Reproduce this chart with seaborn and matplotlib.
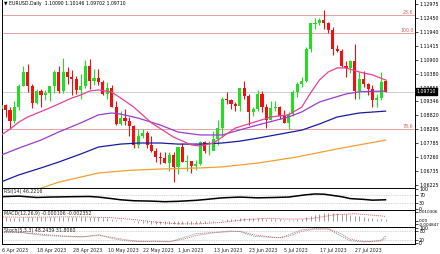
import numpy as np
import pandas as pd
import matplotlib
matplotlib.use("Agg")
import matplotlib.pyplot as plt
import matplotlib.transforms as mtransforms
import seaborn as sns

# ---------------- data ----------------
opens = [1.0905, 1.0920, 1.0903, 1.0862, 1.0914, 1.0993, 1.1045, 1.0991, 1.0927, 1.0972,
         1.0958, 1.0964, 1.0990, 1.1045, 1.0972, 1.1043, 1.1026, 1.1017, 1.0975, 1.0992,
         1.1068, 1.1010, 1.1020, 1.1006, 1.0961, 1.0983, 1.0914, 1.0849, 1.0874, 1.0862,
         1.0842, 1.0770, 1.0805, 1.0815, 1.0770, 1.0750, 1.0725, 1.0722, 1.0705, 1.0735,
         1.0688, 1.0763, 1.0708, 1.0712, 1.0693, 1.0699, 1.0781, 1.0749, 1.0751, 1.0793,
         1.0834, 1.0945, 1.0940, 1.0923, 1.0918, 1.0983, 1.0955, 1.0893, 1.0905, 1.0960,
         1.0913, 1.0866, 1.0910, 1.0912, 1.0880, 1.0853, 1.0886, 1.0968, 1.0998, 1.1011,
         1.1129, 1.1222, 1.1228, 1.1237, 1.1226, 1.1200, 1.1129, 1.1124, 1.1065, 1.1057,
         1.1085, 1.0974, 1.1016, 1.0998, 1.0982, 1.0939, 1.0947, 1.1009]
highs = [1.0941, 1.0925, 1.0915, 1.0934, 1.0998, 1.1068, 1.1075, 1.0998, 1.0980, 1.0980,
         1.0975, 1.0990, 1.1050, 1.1065, 1.1095, 1.1064, 1.1050, 1.1029, 1.1036, 1.1090,
         1.1092, 1.1056, 1.1055, 1.1015, 1.1008, 1.0995, 1.0937, 1.0900, 1.0905, 1.0877,
         1.0847, 1.0830, 1.0830, 1.0822, 1.0805, 1.0760, 1.0745, 1.0745, 1.0745, 1.0745,
         1.0765, 1.0779, 1.0734, 1.0713, 1.0715, 1.0788, 1.0787, 1.0785, 1.0823, 1.0865,
         1.0951, 1.0970, 1.0945, 1.0932, 1.0985, 1.1012, 1.0963, 1.0915, 1.0977, 1.0974,
         1.0924, 1.0935, 1.0934, 1.0918, 1.0903, 1.0893, 1.0975, 1.1008, 1.1025, 1.1138,
         1.1227, 1.1244, 1.1246, 1.1276, 1.1232, 1.1210, 1.1146, 1.1128, 1.1084, 1.1087,
         1.1149, 1.1043, 1.1046, 1.1002, 1.0996, 1.0963, 1.1042, 1.1015]
lows = [1.0880, 1.0875, 1.0832, 1.0855, 1.0902, 1.0990, 1.0970, 1.0909, 1.0925, 1.0915,
        1.0939, 1.0936, 1.0965, 1.0965, 1.0966, 1.1000, 1.0959, 1.0960, 1.0943, 1.0985,
        1.0982, 1.0997, 1.0997, 1.0957, 1.0942, 1.0913, 1.0847, 1.0846, 1.0846, 1.0804,
        1.0760, 1.0760, 1.0797, 1.0760, 1.0747, 1.0707, 1.0701, 1.0703, 1.0675, 1.0635,
        1.0662, 1.0707, 1.0674, 1.0667, 1.0677, 1.0698, 1.0743, 1.0733, 1.0752, 1.0772,
        1.0803, 1.0923, 1.0907, 1.0899, 1.0897, 1.0942, 1.0845, 1.0881, 1.0898, 1.0896,
        1.0835, 1.0863, 1.0898, 1.0870, 1.0852, 1.0833, 1.0880, 1.0952, 1.0987, 1.1005,
        1.1118, 1.1205, 1.1220, 1.1206, 1.1189, 1.1106, 1.1118, 1.1063, 1.1025, 1.1040,
        1.0944, 1.0945, 1.0988, 1.0957, 1.0912, 1.0912, 1.0940, 1.0970]
closes = [1.0920, 1.0903, 1.0862, 1.0914, 1.0993, 1.1045, 1.0991, 1.0927, 1.0972, 1.0958,
          1.0964, 1.0990, 1.1045, 1.0972, 1.1043, 1.1026, 1.1017, 1.0975, 1.0992, 1.1068,
          1.1010, 1.1020, 1.1006, 1.0961, 1.0983, 1.0914, 1.0849, 1.0874, 1.0862, 1.0842,
          1.0770, 1.0805, 1.0815, 1.0770, 1.0750, 1.0725, 1.0722, 1.0705, 1.0735, 1.0688,
          1.0763, 1.0708, 1.0712, 1.0693, 1.0699, 1.0781, 1.0749, 1.0751, 1.0793, 1.0834,
          1.0945, 1.0940, 1.0923, 1.0918, 1.0983, 1.0955, 1.0893, 1.0905, 1.0960, 1.0913,
          1.0866, 1.0910, 1.0912, 1.0880, 1.0853, 1.0886, 1.0968, 1.0998, 1.1011, 1.1129,
          1.1227, 1.1228, 1.1237, 1.1226, 1.1200, 1.1129, 1.1124, 1.1065, 1.1057, 1.1085,
          1.0974, 1.1016, 1.0998, 1.0982, 1.0939, 1.0947, 1.1007, 1.0971]

# moving averages (bar index, price)
ma_pink_idx = [0, 2, 4, 6, 11, 16, 18, 20, 22, 25, 27, 30, 34, 39, 43, 45, 48, 53, 61, 65, 68, 70, 72, 74, 76, 78, 81, 84, 87]
ma_pink_val = [1.0809, 1.0831, 1.0857, 1.0876, 1.0910, 1.0947, 1.0958, 1.0973, 1.0977, 1.0969,
               1.0947, 1.0913, 1.0854, 1.0801, 1.0772, 1.0768, 1.0779, 1.0835, 1.0876, 1.0884,
               1.0913, 1.0966, 1.1014, 1.1044, 1.1059, 1.1059, 1.1044, 1.1033, 1.1014]
ma_purple_idx = [0, 4, 9, 13, 18, 22, 25, 27, 31, 36, 40, 45, 50, 54, 58, 65, 68, 72, 78, 81, 87]
ma_purple_val = [1.0734, 1.0760, 1.0790, 1.0820, 1.0854, 1.0884, 1.0891, 1.0887, 1.0872, 1.0846,
                 1.0820, 1.0809, 1.0809, 1.0828, 1.0846, 1.0876, 1.0895, 1.0932, 1.0962, 1.0970, 1.0973]
ma_blue_idx = [0, 4, 9, 13, 18, 22, 27, 31, 36, 40, 45, 50, 54, 58, 63, 68, 72, 76, 81, 87]
ma_blue_val = [1.0634, 1.0660, 1.0686, 1.0708, 1.0738, 1.0764, 1.0775, 1.0779, 1.0779, 1.0775,
               1.0775, 1.0779, 1.0786, 1.0797, 1.0812, 1.0827, 1.0850, 1.0876, 1.0891, 1.0898]
ma_orange_idx = [8, 13, 18, 22, 29, 36, 45, 50, 58, 67, 76, 87]
ma_orange_val = [1.0605, 1.0633, 1.0652, 1.0667, 1.0677, 1.0682, 1.0686, 1.0690, 1.0704, 1.0727, 1.0757, 1.0790]

fib_levels = [1.12565, 1.1190, 1.0833]
fib_labels = ["23.6", "100.0", "78.6"]
last_price = 1.09710

price_ticks = [1.12975, 1.12450, 1.11940, 1.11415, 1.10900, 1.10380, 1.09855,
               1.09346, 1.08820, 1.08295, 1.07785, 1.07260, 1.06735, 1.06225]
price_tick_labels = ["1.12975", "1.12450", "1.11940", "1.11415", "1.10900", "1.10380", "1.09855",
                     "1.09346", "1.08820", "1.08295", "1.07785", "1.07260", "1.06735", "1.06225"]

rsi_idx = [0, 4, 8, 11, 16, 20, 22, 25, 27, 30, 34, 37, 40, 44, 46, 50, 54, 58, 62, 65, 69, 71, 73, 77, 79, 82, 84, 87]
rsi_val = [62, 65, 58, 60, 62, 63, 60, 52, 46, 41, 39, 36, 38, 43, 47, 56, 60, 56, 58, 60, 72, 76, 75, 62, 52, 48, 44, 46]

macd_main = [0.0040, 0.0038, 0.0033, 0.0032, 0.0036, 0.0044, 0.0045, 0.0043, 0.0043, 0.0041,
             0.0040, 0.0041, 0.0045, 0.0043, 0.0046, 0.0046, 0.0045, 0.0041, 0.0039, 0.0043,
             0.0040, 0.0039, 0.0039, 0.0032, 0.0028, 0.0020, 0.0008, 0.0001, -0.0005, -0.0011,
             -0.0021, -0.0025, -0.0027, -0.0033, -0.0038, -0.0043, -0.0045, -0.0047, -0.0046, -0.0048,
             -0.0042, -0.0042, -0.0040, -0.0039, -0.0037, -0.0029, -0.0025, -0.0022, -0.0016, -0.0008,
             0.0004, 0.0013, 0.0018, 0.0022, 0.0030, 0.0033, 0.0030, 0.0028, 0.0031, 0.0029,
             0.0022, 0.0021, 0.0019, 0.0014, 0.0008, 0.0006, 0.0011, 0.0018, 0.0024, 0.0039,
             0.0058, 0.0071, 0.0081, 0.0090, 0.0094, 0.0092, 0.0089, 0.0082, 0.0075, 0.0071,
             0.0058, 0.0051, 0.0043, 0.0035, 0.0025, 0.0018, 0.0019, 0.0015]
macd_sig_idx = [0, 5, 10, 15, 20, 25, 30, 35, 40, 45, 50, 55, 60, 65, 70, 75, 80, 85, 87]
macd_sig_val = [0.0042, 0.0040, 0.0041, 0.0044, 0.0042, 0.0034, 0.0012, -0.0020, -0.0041, -0.0040,
                -0.0022, 0.0010, 0.0026, 0.0017, 0.0021, 0.0067, 0.0083, 0.0060, 0.0050]

stoch_idx = [0, 4, 9, 13, 18, 22, 25, 28, 31, 35, 38, 41, 44, 48, 52, 54, 57, 61, 63, 65, 68, 71, 74, 77, 79, 82, 84, 86, 87]
stoch_main = [70, 72, 52, 45, 40, 55, 30, 15, 10, 12, 8, 35, 62, 70, 80, 75, 45, 38, 35, 55, 88, 95, 92, 45, 15, 8, 12, 20, 48]
stoch_sig = [72, 70, 58, 48, 42, 50, 38, 22, 12, 12, 10, 25, 50, 68, 76, 78, 55, 40, 36, 45, 78, 92, 94, 60, 25, 10, 10, 15, 32]

date_tick_idx = [0, 8, 16, 24, 32, 40, 48, 56, 64, 72, 80]
date_tick_labels = ["6 Apr 2023", "18 Apr 2023", "28 Apr 2023", "10 May 2023", "22 May 2023",
                    "1 Jun 2023", "13 Jun 2023", "23 Jun 2023", "5 Jul 2023", "17 Jul 2023", "27 Jul 2023"]

# ---------------- figure ----------------
sns.set_style("white")
plt.rcParams["font.family"] = ["DejaVu Sans"]
FS = 3.4
W, H = 440, 254
fig = plt.figure(figsize=(W / 100, H / 100), dpi=100)
fig.patch.set_facecolor("white")


def pax(x0, y0, x1, y1):
    return fig.add_axes([x0 / W, 1 - y1 / H, (x1 - x0) / W, (y1 - y0) / H])


XL = (0.18, 93.62)
ax = pax(2, 0, 415, 188)
ax_rsi = pax(2, 188, 415, 210)
ax_macd = pax(2, 210, 415, 227)
ax_st = pax(2, 227, 415, 244)

for a in (ax, ax_rsi, ax_macd, ax_st):
    a.set_xlim(*XL)
    a.set_facecolor("white")
    for s in a.spines.values():
        s.set_color("black")
        s.set_linewidth(0.7)
    a.yaxis.tick_right()
    a.tick_params(axis="y", labelsize=FS, length=2, width=0.5, pad=1, colors="black")
    a.tick_params(axis="x", length=0, labelbottom=False)
ax.spines["top"].set_visible(False)

# ---- main panel ----
df = pd.DataFrame({"i": np.arange(len(opens)), "open": opens, "high": highs, "low": lows, "close": closes})
GREEN, RED = "#22dd22", "#ee1111"
cols = [GREEN if c >= o else RED for o, c in zip(df.open, df.close)]
ax.axhline(last_price, color="#c8c8c8", lw=0.6, zorder=0)
for lv, lb in zip(fib_levels, fib_labels):
    ax.axhline(lv, color="#e39090", lw=0.6, zorder=0)
    ax.text(93.3, lv, lb, ha="right", va="bottom", fontsize=3.4, color="#d06060")
ax.vlines(df.i, df.low, df.high, colors=cols, lw=0.8, zorder=2)
body = (df.close - df.open).where((df.close - df.open).abs() > 0.00006, 0.00008)
ax.bar(df.i, body, bottom=df.open, width=0.7, color=cols, linewidth=0, zorder=3)

sns.lineplot(x=ma_orange_idx, y=ma_orange_val, ax=ax, color="#f0a030", lw=0.9, zorder=4)
sns.lineplot(x=ma_blue_idx, y=ma_blue_val, ax=ax, color="#1a1aa0", lw=0.9, zorder=4)
sns.lineplot(x=ma_purple_idx, y=ma_purple_val, ax=ax, color="#9a3ccf", lw=0.9, zorder=4)
sns.lineplot(x=ma_pink_idx, y=ma_pink_val, ax=ax, color="#e8409a", lw=0.9, zorder=4)

ax.set_ylim(1.06112, 1.13124)
ax.set_xlim(*XL)
ax.set_yticks(price_ticks)
ax.set_yticklabels(price_tick_labels)
ax.set_xlabel("")
ax.set_ylabel("")
ax.text(0.004, 0.994, "\u25bc EURUSD,Daily  1.10090 1.10146 1.09702 1.09710", transform=ax.transAxes,
        ha="left", va="top", fontsize=3.3, color="black")
tr = mtransforms.blended_transform_factory(ax.transAxes, ax.transData)
ax.text(1.004, last_price, "1.09710", transform=tr, ha="left", va="center", fontsize=FS, color="white",
        bbox=dict(facecolor="black", edgecolor="black", pad=0.5), zorder=10, clip_on=False)

# ---- RSI ----
ax_rsi.axhline(70, color="#b0b0b0", lw=0.5, ls=(0, (1, 1.5)))
ax_rsi.axhline(30, color="#b0b0b0", lw=0.5, ls=(0, (1, 1.5)))
sns.lineplot(x=rsi_idx, y=rsi_val, ax=ax_rsi, color="black", lw=1.1)
ax_rsi.set_ylim(-7, 107)
ax_rsi.set_xlim(*XL)
ax_rsi.set_yticks([100, 70, 30, 0])
ax_rsi.set_yticklabels(["100", "70", "30", "0"])
ax_rsi.set_xlabel("")
ax_rsi.set_ylabel("")
ax_rsi.text(0.004, 0.96, "RSI(14) 46.2216", transform=ax_rsi.transAxes, ha="left", va="top", fontsize=FS)

# ---- MACD ----
ax_macd.vlines(df.i, 0, macd_main, colors="#9a9a9a", lw=0.7)
sns.lineplot(x=macd_sig_idx, y=macd_sig_val, ax=ax_macd, color="#e04040", lw=0.6, ls=(0, (1.2, 1.2)))
ax_macd.set_ylim(-0.00788, 0.01273)
ax_macd.set_xlim(*XL)
ax_macd.set_yticks([0.010306, 0.0, -0.004847])
ax_macd.set_yticklabels(["0.010306", "0.00", "-0.004847"])
ax_macd.tick_params(axis="y", labelsize=3.0)
ax_macd.set_xlabel("")
ax_macd.set_ylabel("")
ax_macd.text(0.004, 0.95, "MACD(12,26,9) -0.000106 -0.002352", transform=ax_macd.transAxes,
             ha="left", va="top", fontsize=FS)

# ---- Stochastic ----
ax_st.axhline(80, color="#b0b0b0", lw=0.5, ls=(0, (1, 1.5)))
ax_st.axhline(20, color="#b0b0b0", lw=0.5, ls=(0, (1, 1.5)))
sns.lineplot(x=stoch_idx, y=stoch_main, ax=ax_st, color="#6a9fa0", lw=0.6, ls=(0, (1.5, 1)))
sns.lineplot(x=stoch_idx, y=stoch_sig, ax=ax_st, color="#e05a5a", lw=0.6, ls=(0, (1.2, 1.2)))
ax_st.set_ylim(-6, 106)
ax_st.set_xlim(*XL)
ax_st.set_yticks([100, 80, 20, 0])
ax_st.set_yticklabels(["100", "80", "20", "0"])
ax_st.set_xticks(date_tick_idx)
ax_st.set_xticklabels(date_tick_labels, ha="left")
ax_st.tick_params(axis="x", length=2, width=0.5, labelsize=FS, labelbottom=True, pad=1)
ax_st.set_xlabel("")
ax_st.set_ylabel("")
ax_st.text(0.004, 0.95, "Stoch(5,3,3) 48.2439 31.8060", transform=ax_st.transAxes,
           ha="left", va="top", fontsize=FS)

fig.savefig("out.png", dpi=100, facecolor="white")
